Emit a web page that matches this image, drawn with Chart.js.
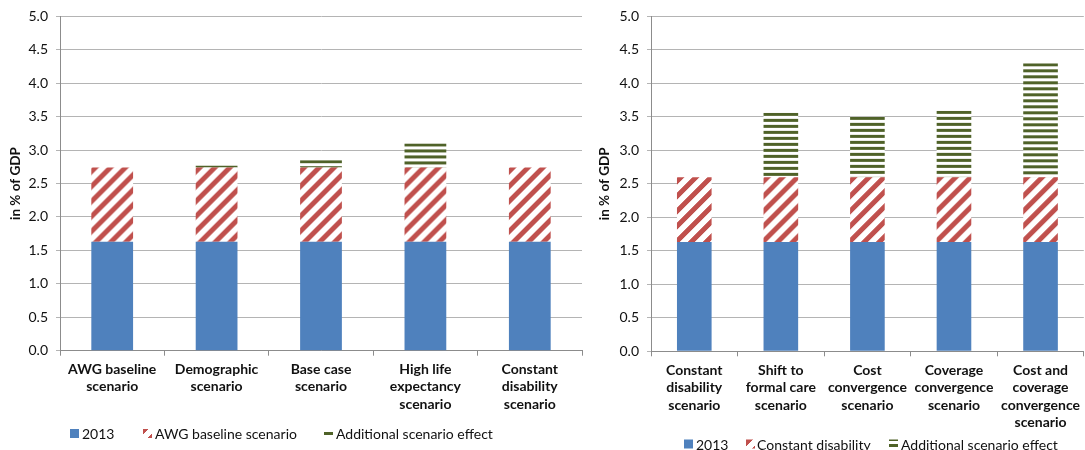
<!DOCTYPE html>
<html>
<head>
<meta charset="utf-8">
<script src="https://cdn.jsdelivr.net/npm/chart.js@4.4.1/dist/chart.umd.min.js"></script>
<style>
  html, body { margin: 0; padding: 0; background: #fff; }
  #wrap { position: relative; width: 1085px; height: 450px; overflow: hidden; }
  canvas { position: absolute; top: 0; }
  #left { left: 0; }
  #right { left: 585px; }
</style>
</head>
<body>
<div id="wrap">
  <canvas id="left" width="585" height="450"></canvas>
  <canvas id="right" width="500" height="450"></canvas>
</div>
<script>
// ---- data -------------------------------------------------------------
const yTickLabels = ['0.0', '0.5', '1.0', '1.5', '2.0', '2.5', '3.0', '3.5', '4.0', '4.5', '5.0'];
const yAxisTitle = 'in % of GDP';

// left panel: demographic / health scenarios
const leftCategories = [
  ['AWG baseline', 'scenario'],
  ['Demographic', 'scenario'],
  ['Base case', 'scenario'],
  ['High life', 'expectancy', 'scenario'],
  ['Constant', 'disability', 'scenario']
];
const leftBase2013 = [1.63, 1.63, 1.63, 1.63, 1.63];
const leftAwgBaseline = [1.11, 1.11, 1.11, 1.11, 1.11];
const leftAdditional = [0.00, 0.03, 0.11, 0.36, -0.02];
const leftSeriesNames = ['2013', 'AWG baseline scenario', 'Additional scenario effect'];

// right panel: policy scenarios on top of constant disability
const rightCategories = [
  ['Constant', 'disability', 'scenario'],
  ['Shift to', 'formal care', 'scenario'],
  ['Cost', 'convergence', 'scenario'],
  ['Coverage', 'convergence', 'scenario'],
  ['Cost and', 'coverage', 'convergence', 'scenario']
];
const rightBase2013 = [1.63, 1.63, 1.63, 1.63, 1.63];
const rightConstDisability = [0.97, 0.97, 0.97, 0.97, 0.97];
const rightAdditional = [0.00, 0.96, 0.90, 0.99, 1.70];
const rightSeriesNames = ['2013', 'Constant disability', 'Additional scenario effect'];

// ---- styling ----------------------------------------------------------
const FONT = 'Lato, "Open Sans", "DejaVu Sans", sans-serif';
const BLUE = '#4F81BD';
const RED = '#C0504D';
const GREEN = '#4F6228';
const GRID = '#B4B4B4';
const AXIS = '#8C8C8C';
const TEXT = '#111111';
const BAR_FRACTION = 0.4;

// wide upward diagonal hatch tile (red on white)
function diagonalTile(color, period, band) {
  const c = document.createElement('canvas');
  c.width = period; c.height = period;
  const g = c.getContext('2d');
  g.fillStyle = '#ffffff';
  g.fillRect(0, 0, period, period);
  g.fillStyle = color;
  for (let y = 0; y < period; y++) {
    for (let x = 0; x < period; x++) {
      if ((x + y) % period < band) g.fillRect(x, y, 1, 1);
    }
  }
  return c;
}

// dark horizontal hatch tile (green on white)
function horizontalTile(color, period, band) {
  const c = document.createElement('canvas');
  c.width = period; c.height = period;
  const g = c.getContext('2d');
  g.fillStyle = '#ffffff';
  g.fillRect(0, 0, period, period);
  g.fillStyle = color;
  g.fillRect(0, 0, period, band);
  return c;
}

const redTile = diagonalTile(RED, 15, 7);
const greenTile = horizontalTile(GREEN, 6, 3);
const scratch = document.createElement('canvas').getContext('2d');
const redLegendFill = scratch.createPattern(redTile, 'repeat');
const greenLegendFill = scratch.createPattern(greenTile, 'repeat');

// hatch whose origin sits on the top-left corner of each bar segment
function anchoredHatch(tile) {
  return function (context) {
    const chart = context.chart;
    if (context.dataIndex === undefined || !chart.scales.y) {
      return chart.ctx.createPattern(tile, 'repeat');
    }
    const i = context.dataIndex;
    const di = context.datasetIndex;
    const v = context.raw;
    let start = 0;
    if (v >= 0) {
      for (let k = 0; k < di; k++) {
        const w = chart.data.datasets[k].data[i];
        if (w > 0) start += w;
      }
    }
    const top = chart.scales.y.getPixelForValue(Math.max(start, start + v));
    const xs = chart.scales.x;
    const catW = xs.getPixelForValue(1) - xs.getPixelForValue(0);
    const left = xs.getPixelForValue(i) - catW * BAR_FRACTION / 2;
    const p = chart.ctx.createPattern(tile, 'repeat');
    p.setTransform(new DOMMatrix([1, 0, 0, 1, left, top]));
    return p;
  };
}

// legend drawn beneath the category labels with small square markers
const markerLegend = {
  id: 'markerLegend',
  afterDraw(chart, args, opts) {
    const ctx = chart.ctx;
    ctx.save();
    ctx.font = '14px ' + FONT;
    ctx.textBaseline = 'middle';
    ctx.textAlign = 'left';
    chart.data.datasets.forEach((ds, i) => {
      const bx = opts.boxX[i];
      ctx.fillStyle = ds.legendFill;
      ctx.fillRect(bx, opts.y - opts.box / 2, opts.box, opts.box);
      ctx.fillStyle = TEXT;
      ctx.fillText(ds.label, opts.textX[i], opts.y + 1);
    });
    ctx.restore();
  }
};

function buildChart(canvasId, labels, names, values, geo) {
  const fills = [BLUE, anchoredHatch(redTile), anchoredHatch(greenTile)];
  const legendFills = [BLUE, redLegendFill, greenLegendFill];
  return new Chart(document.getElementById(canvasId), {
    type: 'bar',
    data: {
      labels: labels,
      datasets: names.map((n, i) => ({
        label: n,
        data: values[i],
        backgroundColor: fills[i],
        legendFill: legendFills[i],
        borderWidth: 0,
        barPercentage: BAR_FRACTION,
        categoryPercentage: 1.0
      }))
    },
    options: {
      responsive: false,
      animation: false,
      events: [],
      layout: { padding: { left: 0, right: geo.padRight, top: geo.top, bottom: 0 } },
      plugins: {
        legend: { display: false },
        tooltip: { enabled: false },
        markerLegend: geo.legend
      },
      scales: {
        x: {
          stacked: true,
          offset: true,
          ticks: {
            color: TEXT,
            font: { family: FONT, size: 14, weight: 'bold', lineHeight: 1.25 },
            maxRotation: 0,
            autoSkip: false,
            padding: 5
          },
          grid: { drawOnChartArea: false, drawTicks: true, tickLength: 5, color: AXIS, offset: true },
          border: { color: AXIS, width: 1 },
          afterFit: s => { s.height = 450 - geo.bottom; }
        },
        y: {
          stacked: true,
          min: 0,
          max: 5,
          ticks: {
            stepSize: 0.5,
            color: TEXT,
            font: { family: FONT, size: 14 },
            padding: 8,
            callback: (v, i) => yTickLabels[i]
          },
          grid: { color: GRID, lineWidth: 1, tickLength: 4, drawTicks: true },
          border: { color: AXIS, width: 1 },
          title: {
            display: true,
            text: yAxisTitle,
            color: TEXT,
            font: { family: FONT, size: 13.5, weight: 'bold' },
            padding: { top: geo.titlePad, bottom: 0 }
          },
          afterFit: s => { s.width = geo.axisX; }
        }
      }
    },
    plugins: [markerLegend]
  });
}

buildChart('left', leftCategories, leftSeriesNames,
  [leftBase2013, leftAwgBaseline, leftAdditional],
  {
    axisX: 60, padRight: 3, top: 14.7, bottom: 350.7, titlePad: 8,
    legend: { y: 433.5, box: 9, boxX: [70, 143, 324], textX: [82, 155, 336] }
  });

buildChart('right', rightCategories, rightSeriesNames,
  [rightBase2013, rightConstDisability, rightAdditional],
  {
    axisX: 66, padRight: 0, top: 12.3, bottom: 351.3, titlePad: 12,
    legend: { y: 444, box: 9, boxX: [99, 161, 304], textX: [111, 172, 316] }
  });
</script>
</body>
</html>
